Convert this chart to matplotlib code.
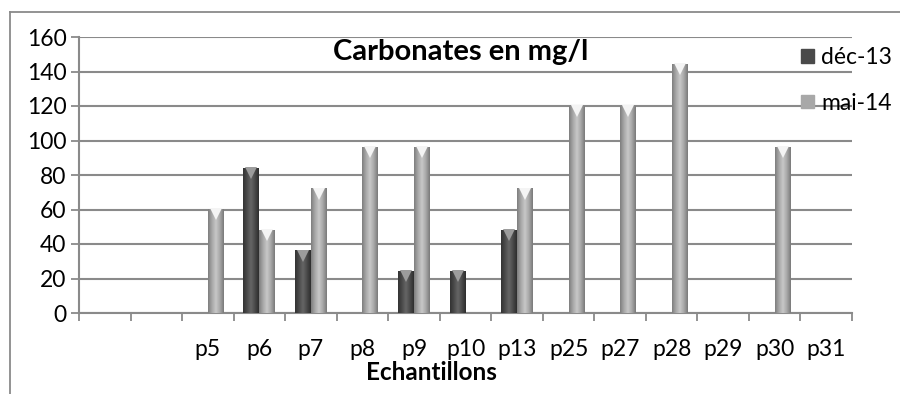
import numpy as np
import matplotlib.pyplot as plt
import matplotlib.transforms as mtransforms
from matplotlib.colors import LinearSegmentedColormap
from matplotlib.lines import Line2D

plt.rcParams['font.family'] = ['Lato', 'DejaVu Sans']

categories = ["", "", "p5", "p6", "p7", "p8", "p9", "p10", "p13",
              "p25", "p27", "p28", "p29", "p30", "p31"]
dec13 = [0, 0, 0, 84, 36, 0, 24, 24, 48, 0, 0, 0, 0, 0, 0]
mai14 = [0, 0, 60, 48, 72, 96, 96, 0, 72, 120, 120, 144, 0, 96, 0]
series_names = ["déc-13", "mai-14"]

fig = plt.figure(figsize=(9, 3.94), dpi=100)
ax = fig.add_axes([79 / 900, 1 - 313 / 394, (852 - 79) / 900, (313 - 37) / 394])

x = np.arange(len(categories))
w = 0.31

dark_cmap = LinearSegmentedColormap.from_list(
    "dark", ["#333333", "#4a4a4a", "#666666", "#4a4a4a", "#2e2e2e"])
light_cmap = LinearSegmentedColormap.from_list(
    "light", ["#7e7e7e", "#a8a8a8", "#c8c8c8", "#a8a8a8", "#7a7a7a"])
grad = np.linspace(0, 1, 64).reshape(1, -1)


def gradient_bars(positions, values, cmap, tri_color):
    bars = ax.bar(positions, values, width=w, color="none", zorder=3)
    for b, v in zip(bars, values):
        if v <= 0:
            continue
        bx, bw, bh = b.get_x(), b.get_width(), b.get_height()
        ax.imshow(grad, cmap=cmap, aspect="auto", extent=(bx, bx + bw, 0, bh),
                  zorder=3, interpolation="bilinear")
        off = mtransforms.ScaledTranslation(0, -3.5 / 72, fig.dpi_scale_trans)
        ax.plot(bx + bw / 2, bh, marker="v", markersize=8, color=tri_color,
                markeredgewidth=0, transform=ax.transData + off, zorder=4)
    return bars


gradient_bars(x - w / 2, dec13, dark_cmap, "#9c9c9c")
gradient_bars(x + w / 2, mai14, light_cmap, "#f4f4f4")

ax.set_xlim(-0.5, len(categories) - 0.5)
ax.set_ylim(0, 160)
ax.set_yticks(range(0, 161, 20))
ax.yaxis.grid(True, color="#8a8a8a", linewidth=1.5)
ax.set_axisbelow(True)

ax.set_xticks(x)
ax.set_xticklabels(categories, fontsize=16.5)
ax.set_xticks(np.arange(-0.5, len(categories)), minor=True)
ax.tick_params(axis="x", which="major", length=0, pad=19)
ax.tick_params(axis="x", which="minor", length=6, width=1.3, color="#8a8a8a")
ax.tick_params(axis="y", length=6, width=1.3, color="#8a8a8a", labelsize=16.5, pad=3)

for s in ["top", "right"]:
    ax.spines[s].set_visible(False)
for s in ["left", "bottom"]:
    ax.spines[s].set_color("#8a8a8a")
    ax.spines[s].set_linewidth(1.5)

fig.text(461 / 900, 1 - 52 / 394, "Carbonates en mg/l",
         ha="center", va="center", fontsize=21, fontweight="bold")
fig.text(431 / 900, 1 - 373 / 394, "Echantillons", ha="center", va="center",
         fontsize=17.5, fontweight="bold")

# legend
handles = [plt.Rectangle((0, 0), 1, 1, color="#4a4a4a"),
           plt.Rectangle((0, 0), 1, 1, color="#a8a8a8")]
fig.legend(handles, series_names, loc="upper left",
           bbox_to_anchor=(790 / 900, 1 - 36 / 394), frameon=False,
           fontsize=16.5, handlelength=0.55, handleheight=0.55, handletextpad=0.3,
           labelspacing=1.05, borderpad=0)

# chart area border (left and top edges visible)
fig.add_artist(Line2D([10 / 900, 10 / 900], [0, 1 - 12 / 394],
                      transform=fig.transFigure, color="#8a8a8a", linewidth=1.3))
fig.add_artist(Line2D([10 / 900, 1], [1 - 12 / 394, 1 - 12 / 394],
                      transform=fig.transFigure, color="#8a8a8a", linewidth=1.3))

fig.savefig("out.png", dpi=100)
